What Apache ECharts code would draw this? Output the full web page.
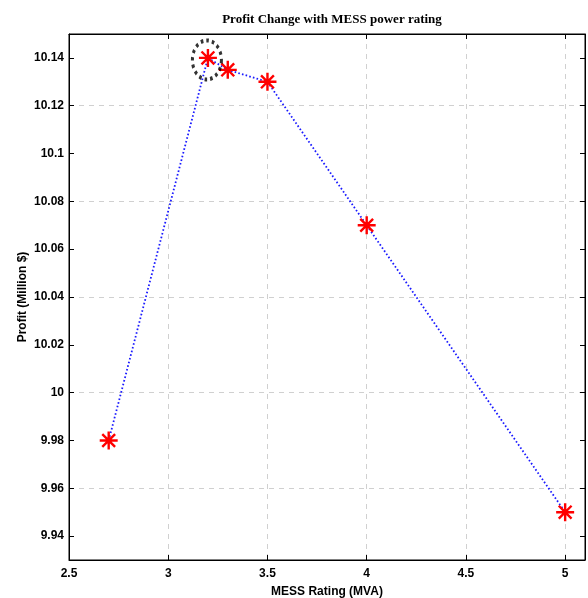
<!DOCTYPE html>
<html>
<head>
<meta charset="utf-8">
<script src="https://cdn.jsdelivr.net/npm/echarts@6/dist/echarts.min.js"></script>
<style>html,body{margin:0;padding:0;background:#fff}#c{width:588px;height:598px}</style>
</head>
<body>
<div id="c"></div>
<script>
const ratings = [2.7, 3.2, 3.3, 3.5, 4.0, 5.0];
const profits = [9.98, 10.14, 10.135, 10.13, 10.07, 9.95];
const optimum = [3.2, 10.14];
const xTicks = [2.5, 3, 3.5, 4, 4.5, 5];
const yTicks = [9.94, 9.96, 9.98, 10, 10.02, 10.04, 10.06, 10.08, 10.1, 10.12, 10.14];

const chart = echarts.init(document.getElementById('c'), null, {renderer: 'canvas'});
const lbl = {fontFamily: 'Liberation Sans', fontWeight: 'bold', fontSize: 12, color: '#000'};
const axLine = {show: true, lineStyle: {color: '#000', width: 1}};
const gridLine = {type: [5, 5], width: 1};
const isY = v => yTicks.some(t => Math.abs(t - v) < 1e-6);
const isX = v => xTicks.some(t => Math.abs(t - v) < 1e-6);
const star = 'path://M0 8 L16 8 M8 0 L8 16 M2.3 2.3 L13.7 13.7 M13.7 2.3 L2.3 13.7';

chart.setOption({
  animation: false,
  title: {
    text: 'Profit Change with MESS power rating',
    left: 327, top: 8, textAlign: 'center',
    textStyle: {fontFamily: 'Liberation Serif', fontWeight: 'bold', fontSize: 13, color: '#000'}
  },
  grid: {left: 69, right: 3, top: 34, bottom: 38, outerBoundsMode: 'none', containLabel: false,
    show: true, borderColor: '#000', borderWidth: 1},
  xAxis: [{
    type: 'value', min: 2.5, max: 5.1, interval: 0.5, position: 'bottom',
    name: 'MESS Rating (MVA)', nameLocation: 'middle', nameGap: 26, nameMoveOverlap: false,
    nameTextStyle: lbl,
    axisLine: axLine,
    axisTick: {show: true, inside: true, length: 5, lineStyle: {color: '#000'}, customValues: xTicks},
    axisLabel: Object.assign({margin: 8, showMaxLabel: true, formatter: v => isX(v) ? String(v) : ''}, lbl),
    splitLine: {show: true, showMinLine: true, showMaxLine: true, lineStyle: Object.assign({color: '#d0d0d0'}, gridLine)}
  }, {
    type: 'value', min: 2.5, max: 5.1, interval: 0.5, position: 'top',
    axisLine: axLine,
    axisTick: {show: true, inside: true, length: 5, lineStyle: {color: '#000'}, customValues: xTicks},
    axisLabel: {show: false},
    splitLine: {show: false}
  }],
  yAxis: [{
    type: 'value', min: 9.93, max: 10.15, interval: 0.01, position: 'left',
    name: 'Profit (Million $)', nameLocation: 'middle', nameGap: 40, nameRotate: 90, nameMoveOverlap: false,
    nameTextStyle: lbl,
    axisLine: axLine,
    axisTick: {show: true, inside: true, length: 5, lineStyle: {color: '#000'}, customValues: yTicks},
    axisLabel: Object.assign({margin: 5, formatter: v => isY(v) ? String(Math.round(v * 100) / 100) : ''}, lbl),
    splitLine: {show: true, showMinLine: true, showMaxLine: true,
      lineStyle: Object.assign({color: ['rgba(0,0,0,0)', '#d0d0d0']}, gridLine)}
  }, {
    type: 'value', min: 9.93, max: 10.15, interval: 0.01, position: 'right',
    axisLine: axLine,
    axisTick: {show: true, inside: true, length: 5, lineStyle: {color: '#000'}, customValues: yTicks},
    axisLabel: {show: false},
    splitLine: {show: false}
  }],
  series: [{
    type: 'line',
    data: ratings.map((x, i) => [x, profits[i]]),
    lineStyle: {color: '#1a1aff', width: 1.8, type: [1.6, 2.2]},
    symbol: star, symbolSize: 18,
    itemStyle: {color: 'rgba(0,0,0,0)', borderColor: '#ff0000', borderWidth: 2.4},
    z: 3
  }, {
    type: 'scatter',
    data: [optimum],
    symbol: 'circle', symbolSize: [29, 39], symbolOffset: [-1, 2],
    itemStyle: {color: 'rgba(0,0,0,0)', borderColor: '#000', borderWidth: 3.5, borderType: [3, 3.5]},
    silent: true, z: 4
  }]
});
</script>
</body>
</html>
